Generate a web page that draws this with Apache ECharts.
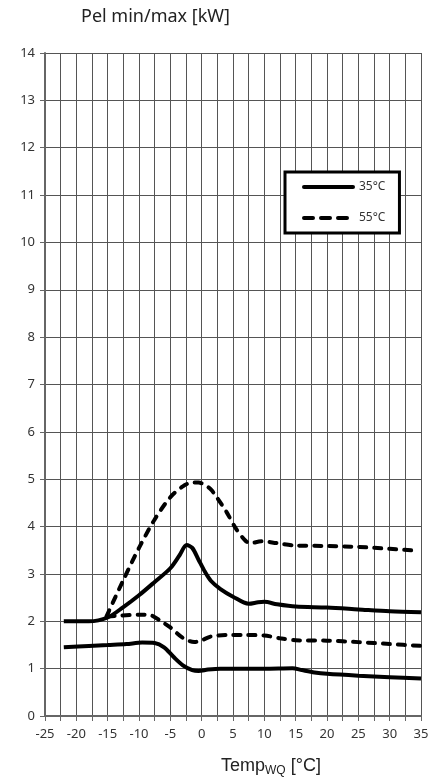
<!DOCTYPE html>
<html>
<head>
<meta charset="utf-8">
<script src="https://cdn.jsdelivr.net/npm/echarts@6/dist/echarts.min.js"></script>
<style>
html,body{margin:0;padding:0;background:#fff;}
#c{width:438px;height:782px;}
</style>
</head>
<body>
<div id="c"></div>
<script>
// Tick labels / axis ranges
var xMin = -25, xMax = 35, xStep = 2.5;
var yMin = 0, yMax = 14, yStep = 1;

// 35°C upper curve (max)
var t35max = [-22, -18, -15, -12.5, -10, -7.5, -5, -3.5, -2.4, -1.5, -0.5, 0.5, 1.5, 3, 5, 7.5, 9, 10, 12, 15, 20, 25, 30, 35];
var p35max = [2.0, 2.0, 2.08, 2.3, 2.55, 2.83, 3.12, 3.4, 3.61, 3.55, 3.3, 3.05, 2.85, 2.68, 2.52, 2.37, 2.40, 2.41, 2.36, 2.31, 2.29, 2.25, 2.21, 2.19];

// 35°C lower curve (min)
var t35min = [-22, -18, -15, -12, -9.5, -7.5, -6, -4.5, -3, -1.5, -0.5, 1, 3, 6, 10, 14.5, 16, 18, 20, 25, 30, 35];
var p35min = [1.45, 1.48, 1.50, 1.52, 1.55, 1.54, 1.45, 1.25, 1.07, 0.97, 0.95, 0.98, 1.0, 1.0, 1.0, 1.01, 0.97, 0.92, 0.89, 0.85, 0.82, 0.79];

// 55°C upper curve (max)
var t55max = [-15.2, -12.5, -10, -7.5, -5, -3, -1.5, -0.5, 0.5, 1.5, 2.5, 4, 5.5, 7, 7.8, 9.5, 12, 15, 20, 25, 30, 34.5];
var p55max = [2.1, 2.87, 3.55, 4.15, 4.62, 4.85, 4.93, 4.93, 4.88, 4.78, 4.6, 4.3, 3.95, 3.7, 3.65, 3.69, 3.65, 3.6, 3.59, 3.57, 3.53, 3.49];

// 55°C lower curve (min)
var t55min = [-15, -13, -10, -8, -6.5, -5, -3, -1.2, 0, 1.5, 4, 7, 10, 12.5, 15, 20, 25, 30, 35];
var p55min = [2.1, 2.12, 2.14, 2.12, 2.0, 1.87, 1.65, 1.56, 1.6, 1.68, 1.71, 1.71, 1.70, 1.64, 1.6, 1.59, 1.56, 1.52, 1.48];

function pairs(t, p) { return t.map(function (v, i) { return [v, p[i]]; }); }

var solid = { color: '#000', width: 4, type: 'solid' };
var dashed = { color: '#000', width: 4, type: [7, 8], cap: 'round' };

function mk(name, t, p, ls) {
  return {
    name: name, type: 'line', data: pairs(t, p), smooth: 0.3,
    symbol: 'none', lineStyle: ls, itemStyle: { color: '#000' }, z: 5
  };
}

var chart = echarts.init(document.getElementById('c'), null, { renderer: 'canvas' });
chart.setOption({
  animation: false,
  backgroundColor: '#fff',
  title: [
    { text: 'Pel min/max [kW]', left: 76, top: 3,
      textStyle: { fontFamily: 'Noto Sans', fontSize: 18, fontWeight: 'normal', color: '#222' } },
    { text: 'Temp{sub|WQ} [°C]', left: 216, top: 751,
      textStyle: { fontFamily: 'Liberation Sans', fontSize: 18, fontWeight: 'normal', color: '#222',
        rich: { sub: { fontFamily: 'Liberation Sans', fontSize: 12, color: '#222', verticalAlign: 'bottom', padding: [9, 0, 0, 0] } } } }
  ],
  legend: {
    orient: 'vertical', left: 285, top: 172,
    padding: [9, 14, 9, 17],
    itemWidth: 49, itemHeight: 14, itemGap: 19,
    borderColor: '#000', borderWidth: 3,
    backgroundColor: '#fff',
    itemStyle: { opacity: 0, borderWidth: 0 },
    lineStyle: { width: 4, color: '#000', cap: 'round' },
    textStyle: { fontFamily: 'Noto Sans', fontSize: 12, color: '#333', padding: [0, 0, 0, 1] },
    data: [
      { name: '35°C', lineStyle: { width: 4, color: '#000', type: 'solid', cap: 'round' } },
      { name: '55°C', lineStyle: { width: 4, color: '#000', type: [9, 8], cap: 'round' } }
    ]
  },
  grid: { left: 45, right: 17, top: 53, bottom: 66, containLabel: false },
  xAxis: {
    type: 'value', min: xMin, max: xMax, interval: xStep,
    axisLine: { show: true, onZero: false, lineStyle: { color: '#666', width: 2 } },
    axisTick: { show: true, length: 5, lineStyle: { color: '#666' } },
    axisLabel: { margin: 12, fontFamily: 'Noto Sans', fontSize: 13, color: '#333',
      formatter: function (v) { return (Math.abs(v % 5) < 1e-9) ? String(v) : ''; } },
    splitLine: { show: true, lineStyle: { color: '#555', width: 1 } }
  },
  yAxis: {
    type: 'value', min: yMin, max: yMax, interval: yStep,
    axisLine: { show: true, onZero: false, lineStyle: { color: '#666', width: 2 } },
    axisTick: { show: true, length: 5, lineStyle: { color: '#666' } },
    axisLabel: { margin: 10, fontFamily: 'Noto Sans', fontSize: 13, color: '#333' },
    splitLine: { show: true, lineStyle: { color: '#555', width: 1 } }
  },
  series: [
    mk('35°C', t35max, p35max, solid),
    mk('35°C', t35min, p35min, solid),
    mk('55°C', t55max, p55max, dashed),
    mk('55°C', t55min, p55min, dashed)
  ]
});
</script>
</body>
</html>
